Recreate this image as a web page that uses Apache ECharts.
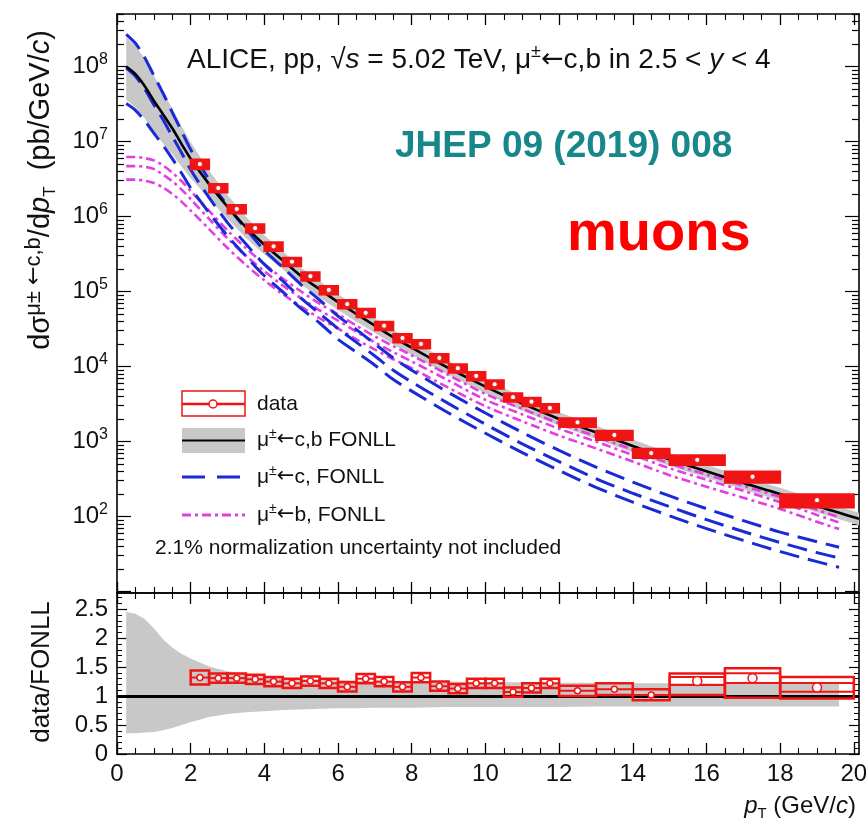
<!DOCTYPE html>
<html><head><meta charset="utf-8">
<script src="https://cdn.jsdelivr.net/npm/echarts@6/dist/echarts.min.js"></script>
<style>html,body{margin:0;padding:0;background:#fff}#c{width:866px;height:827px}</style>
</head><body><div id="c"></div>
<script>
// ---------------- data ----------------
const binLo = [2,2.5,3,3.5,4,4.5,5,5.5,6,6.5,7,7.5,8,8.5,9,9.5,10,10.5,11,11.5,12,13,14,15,16.5,18];
const binHi = [2.5,3,3.5,4,4.5,5,5.5,6,6.5,7,7.5,8,8.5,9,9.5,10,10.5,11,11.5,12,13,14,15,16.5,18,20];
const dataVal = [5.0e6,2.4e6,1.26e6,7.0e5,4.0e5,2.5e5,1.6e5,1.05e5,6.8e4,5.2e4,3.5e4,2.4e4,2.0e4,1.3e4,9.5e3,7.5e3,5.8e3,3.9e3,3.4e3,2.8e3,1.8e3,1.22e3,700,570,340,165];
const dataSysRel = [0.15,0.13,0.13,0.13,0.13,0.13,0.13,0.13,0.13,0.13,0.13,0.13,0.13,0.13,0.13,0.13,0.13,0.13,0.13,0.13,0.13,0.14,0.14,0.15,0.17,0.2];
const ratioVal = [1.32,1.31,1.31,1.29,1.25,1.22,1.26,1.22,1.16,1.30,1.25,1.16,1.32,1.17,1.13,1.22,1.22,1.07,1.14,1.22,1.09,1.12,1.02,1.26,1.31,1.15];
const ratioSysLo = [1.20,1.23,1.23,1.21,1.17,1.14,1.18,1.14,1.08,1.22,1.17,1.08,1.24,1.09,1.05,1.14,1.14,0.99,1.06,1.14,1.00,1.02,0.93,1.02,0.97,0.96];
const ratioSysHi = [1.44,1.39,1.39,1.37,1.33,1.30,1.34,1.30,1.24,1.38,1.33,1.24,1.40,1.25,1.21,1.30,1.30,1.15,1.22,1.30,1.18,1.22,1.12,1.39,1.48,1.33];
const ratioInner = [0,0,0,0,0,0,0,0,0,0,0,0,0,0,0,0,0,0,0,0,0,0,0,0.07,0.085,0.075];

const fonllPt = [0.25,0.5,0.75,1,1.25,1.5,1.75,2,2.5,3,3.5,4,4.5,5,5.5,6,6.5,7,7.5,8,9,10,11,12,13,14,15,16,17,18,19,19.6,20.14];
const fonllCentral = [1.0e8,7.9e7,5.5e7,3.5e7,2.3e7,1.5e7,9.3e6,5.9e6,2.7e6,1.35e6,7.2e5,4.2e5,2.6e5,1.6e5,1.07e5,7.2e4,5.0e4,3.5e4,2.45e4,1.78e4,9.5e3,5.4e3,3.2e3,2.0e3,1.32e3,870,575,400,280,200,138,112,93];
const fonllRatioUp = [2.45,2.42,2.33,2.17,1.98,1.84,1.73,1.65,1.51,1.43,1.38,1.34,1.32,1.30,1.29,1.28,1.27,1.26,1.26,1.25,1.25,1.24,1.24,1.23,1.23,1.22,1.22,1.22,1.21,1.21,1.21,1.21,1.21];
const fonllRatioLo = [0.36,0.36,0.37,0.38,0.41,0.45,0.50,0.55,0.64,0.69,0.72,0.74,0.76,0.77,0.78,0.79,0.79,0.80,0.80,0.80,0.81,0.81,0.81,0.81,0.82,0.82,0.82,0.82,0.82,0.82,0.82,0.82,0.82];
const ratioBandEnd = 19.7;

const compPt = [0.25,0.5,0.75,1,1.25,1.5,1.75,2,2.5,3,3.5,4,4.5,5,5.5,6,6.5,7,7.5,8,9,10,11,12,13,14,15,16,17,18,19,19.6];
const charmUp = [2.69e8,2.04e8,1.32e8,7.6e7,4.4e7,2.45e7,1.38e7,7.8e6,3.1e6,1.38e6,6.8e5,3.55e5,2.1e5,1.23e5,7.7e4,4.7e4,3.1e4,2.0e4,1.3e4,8.9e3,4.5e3,2.4e3,1.32e3,760,457,288,188,127,88,62,46,39];
const charmCentral = [9.5e7,7.4e7,5.0e7,3.1e7,1.95e7,1.17e7,7.1e6,4.2e6,1.78e6,8.3e5,4.3e5,2.3e5,1.38e5,8.1e4,5.1e4,3.2e4,2.1e4,1.38e4,8.9e3,6.2e3,3.2e3,1.7e3,930,540,320,204,135,91,63,45,33,28];
const charmLow = [3.2e7,2.6e7,1.9e7,1.29e7,8.9e6,5.9e6,3.8e6,2.4e6,1.12e6,5.5e5,2.95e5,1.62e5,9.9e4,5.9e4,3.8e4,2.3e4,1.55e4,1.04e4,6.7e3,4.7e3,2.4e3,1.29e3,710,410,245,155,102,69,48,34,25,21];
const beautyUp = [6.2e6,6.2e6,6.0e6,5.6e6,4.8e6,3.85e6,2.97e6,2.19e6,1.19e6,6.5e5,3.78e5,2.32e5,1.49e5,1.0e5,6.9e4,4.97e4,3.5e4,2.52e4,1.87e4,1.41e4,7.7e3,4.3e3,2.72e3,1.75e3,1.17e3,780,510,363,257,182,123,98];
const beautyCentral = [4.7e6,4.7e6,4.6e6,4.3e6,3.6e6,2.95e6,2.3e6,1.7e6,9.3e5,5.1e5,3.0e5,1.86e5,1.2e5,8.1e4,5.6e4,4.1e4,2.9e4,2.1e4,1.55e4,1.17e4,6.5e3,3.6e3,2.3e3,1.48e3,1.0e3,660,440,310,220,155,105,83];
const beautyLow = [3.1e6,3.1e6,3.0e6,2.8e6,2.43e6,2.0e6,1.58e6,1.2e6,6.8e5,3.8e5,2.26e5,1.41e5,9.2e4,6.3e4,4.4e4,3.2e4,2.3e4,1.68e4,1.25e4,9.5e3,5.2e3,2.95e3,1.86e3,1.2e3,810,540,355,250,178,126,85,68];

const xTickLabels = [0,2,4,6,8,10,12,14,16,18,20];
const logMajorExp = [1,2,3,4,5,6,7,8];
const logLabelExp = [2,3,4,5,6,7,8];
const ratioTicks = [0,0.5,1,1.5,2,2.5];

// ---------------- style ----------------
const FONT = "'Liberation Sans', Arial, Helvetica, sans-serif";
const ARROWFONT = "'DejaVu Sans', sans-serif";
const RED = '#f01414', BLUE = '#1a2ad6', MAG = '#e23ee2', GREY = '#c8c8c8';
const X_MAX = 20.14, LOG_MIN = 0.98, LOG_MAX = 8.70, R_MAX = 2.78;
const L = Math.log10;

const logMinor = [];
for (let n = 0; n <= 8; n++) for (let k = 2; k <= 9; k++) { const v = n + L(k); if (v > LOG_MIN && v < LOG_MAX) logMinor.push(v); }

function xAxisCfg(grid, pos, labels) {
  return {
    type: 'value', gridIndex: grid, position: pos, min: 0, max: X_MAX, interval: 2,
    axisLine: { show: true, onZero: false, lineStyle: { color: '#000', width: 1.6 } },
    axisTick: { show: true, inside: true, length: 11, customValues: xTickLabels, lineStyle: { color: '#000', width: 1.3 } },
    minorTick: { show: true, splitNumber: 4, length: 6, lineStyle: { color: '#000', width: 1.1 } },
    axisLabel: labels ? { show: true, customValues: xTickLabels, margin: 8, fontSize: 24, color: '#111', fontFamily: FONT } : { show: false },
    splitLine: { show: false }, minorSplitLine: { show: false }
  };
}
function logYCfg(pos, minor, labels) {
  return {
    type: 'value', gridIndex: 0, position: pos, min: LOG_MIN, max: LOG_MAX,
    axisLine: { show: !minor, onZero: false, lineStyle: { color: '#000', width: 1.6 } },
    axisTick: { show: true, inside: true, length: minor ? 7 : 14, customValues: minor ? logMinor : logMajorExp, lineStyle: { color: '#000', width: 1.2 } },
    axisLabel: labels ? {
      show: true, customValues: logLabelExp, margin: 9, fontSize: 24, color: '#111', fontFamily: FONT, lineHeight: 30,
      formatter: v => '10{s|' + Math.round(v) + '}',
      rich: { s: { fontSize: 16, lineHeight: 18, verticalAlign: 'top', fontFamily: FONT, color: '#111' } }
    } : { show: false },
    splitLine: { show: false }
  };
}
function ratioYCfg(pos, labels) {
  return {
    type: 'value', gridIndex: 1, position: pos, min: 0, max: R_MAX, interval: 0.5,
    axisLine: { show: true, onZero: false, lineStyle: { color: '#000', width: 1.6 } },
    axisTick: { show: true, inside: true, length: 10, customValues: ratioTicks, lineStyle: { color: '#000', width: 1.2 } },
    minorTick: { show: true, splitNumber: 5, length: 5, lineStyle: { color: '#000', width: 1 } },
    axisLabel: labels ? { show: true, customValues: ratioTicks, margin: 9, fontSize: 24, color: '#111', fontFamily: FONT } : { show: false },
    splitLine: { show: false }, minorSplitLine: { show: false }
  };
}

function curve(name, xs, ys, color, dash, width) {
  return { name, type: 'line', xAxisIndex: 0, yAxisIndex: 0, data: xs.map((x, i) => [x, L(ys[i])]),
    showSymbol: false, symbol: 'none', smooth: 0.3, silent: true, lineStyle: { color, width, type: dash }, z: 3 };
}

// band outlines (built from the arrays above)
const topBandX = fonllPt;
const topBandHi = fonllPt.map((x, i) => L(fonllCentral[i] * fonllRatioUp[i]));
const topBandLo = fonllPt.map((x, i) => L(fonllCentral[i] * fonllRatioLo[i]));
const rIdx = fonllPt.map((x, i) => i).filter(i => fonllPt[i] <= ratioBandEnd);
const ratioBandX = rIdx.map(i => fonllPt[i]);
const ratioBandHi = rIdx.map(i => fonllRatioUp[i]);
const ratioBandLo = rIdx.map(i => fonllRatioLo[i]);

function bandRenderer(xs, lo, hi) {
  return function (params, api) {
    const pts = [];
    for (let i = 0; i < xs.length; i++) pts.push(api.coord([xs[i], hi[i]]));
    for (let i = xs.length - 1; i >= 0; i--) pts.push(api.coord([xs[i], lo[i]]));
    return { type: 'polygon', shape: { points: pts }, style: { fill: GREY, stroke: 'none' } };
  };
}

const topData = dataVal.map((v, i) => [binLo[i], binHi[i], L(v), L(v * (1 - dataSysRel[i])), L(v * (1 + dataSysRel[i]))]);
const ratioData = ratioVal.map((v, i) => [binLo[i], binHi[i], v, ratioSysLo[i], ratioSysHi[i], ratioInner[i]]);

function renderTop(params, api) {
  const x0 = api.value(0), x1 = api.value(1), yc = api.value(2), ylo = api.value(3), yhi = api.value(4);
  const a = api.coord([x0, yhi]), b = api.coord([x1, ylo]), c = api.coord([(x0 + x1) / 2, yc]);
  return { type: 'group', children: [
    { type: 'rect', shape: { x: a[0], y: a[1], width: b[0] - a[0], height: b[1] - a[1] }, style: { fill: RED, stroke: RED, lineWidth: 2 } },
    { type: 'circle', shape: { cx: c[0], cy: c[1], r: 2.6 }, style: { fill: '#fff', stroke: RED, lineWidth: 1 } }
  ] };
}
function renderRatio(params, api) {
  const x0 = api.value(0), x1 = api.value(1), yc = api.value(2), ylo = api.value(3), yhi = api.value(4), st = api.value(5);
  const a = api.coord([x0, yhi]), b = api.coord([x1, ylo]), c = api.coord([(x0 + x1) / 2, yc]);
  const ch = [{ type: 'rect', shape: { x: a[0], y: a[1], width: b[0] - a[0], height: b[1] - a[1] }, style: { fill: 'none', stroke: RED, lineWidth: 2.5 } }];
  if (st > 0) {
    const ia = api.coord([x0, yc + st]), ib = api.coord([x1, yc - st]);
    ch.push({ type: 'rect', shape: { x: ia[0], y: ia[1], width: ib[0] - ia[0], height: ib[1] - ia[1] }, style: { fill: 'none', stroke: RED, lineWidth: 2 } });
  } else {
    const l = api.coord([x0, yc]), r = api.coord([x1, yc]);
    ch.push({ type: 'line', shape: { x1: l[0], y1: l[1], x2: r[0], y2: r[1] }, style: { stroke: RED, lineWidth: 2 } });
  }
  ch.push({ type: 'circle', shape: { cx: c[0], cy: c[1], r: st > 0 ? 4.5 : 3 }, style: { fill: '#fff', stroke: RED, lineWidth: 1.5 } });
  return { type: 'group', children: ch };
}

const DASH_C = [20, 9], DASH_B = [9, 4, 3, 4];
const legRich = {
  s: { fontSize: 14, fontFamily: FONT, verticalAlign: 'top', lineHeight: 16 },
  a: { fontSize: 21, fontFamily: ARROWFONT, lineHeight: 26 }
};
function legText(y, txt) {
  return { type: 'text', z: 10, x: 257, y, style: { text: txt, fontSize: 21, fontFamily: FONT, fill: '#111', align: 'left', textAlign: 'left', verticalAlign: 'middle', textVerticalAlign: 'middle', lineHeight: 26, rich: legRich } };
}

const option = {
  animation: false,
  backgroundColor: '#fff',
  grid: [
    { left: 117, top: 14, width: 742, height: 579, outerBoundsMode: 'none', containLabel: false },
    { left: 117, top: 593, width: 742, height: 161, outerBoundsMode: 'none', containLabel: false }
  ],
  xAxis: [xAxisCfg(0, 'bottom', false), xAxisCfg(0, 'top', false), xAxisCfg(1, 'bottom', true), xAxisCfg(1, 'top', false)],
  yAxis: [logYCfg('left', false, true), logYCfg('left', true, false), logYCfg('right', false, false), logYCfg('right', true, false),
          ratioYCfg('left', true), ratioYCfg('right', false)],
  series: [
    { type: 'custom', xAxisIndex: 0, yAxisIndex: 0, data: [[topBandX[0], topBandLo[0]]], renderItem: bandRenderer(topBandX, topBandLo, topBandHi), silent: true, z: 1 },
    curve('b up', compPt, beautyUp, MAG, DASH_B, 2.6),
    curve('b central', compPt, beautyCentral, MAG, DASH_B, 2.6),
    curve('b low', compPt, beautyLow, MAG, DASH_B, 2.6),
    curve('c up', compPt, charmUp, BLUE, DASH_C, 3),
    curve('c central', compPt, charmCentral, BLUE, DASH_C, 3),
    curve('c low', compPt, charmLow, BLUE, DASH_C, 3),
    curve('total', fonllPt, fonllCentral, '#000', 'solid', 2.6),
    { type: 'custom', xAxisIndex: 0, yAxisIndex: 0, data: topData, renderItem: renderTop, silent: true, z: 5 },

    { type: 'custom', xAxisIndex: 2, yAxisIndex: 4, data: [[ratioBandX[0], ratioBandLo[0]]], renderItem: bandRenderer(ratioBandX, ratioBandLo, ratioBandHi), silent: true, z: 1,
      markLine: { silent: true, symbol: ['none', 'none'], label: { show: false }, lineStyle: { color: '#000', width: 3, type: 'solid' }, data: [{ yAxis: 1 }] } },
    { type: 'custom', xAxisIndex: 2, yAxisIndex: 4, data: ratioData, renderItem: renderRatio, silent: true, z: 5 }
  ],
  graphic: { elements: [
    { type: 'text', x: 187, y: 60, z: 10, style: { text: 'ALICE, pp, √{i|s} = 5.02 TeV, μ{s|±}{a|←}c,b in 2.5 < {i|y} < 4', fontSize: 28, fontFamily: FONT, fill: '#111', align: 'left', textAlign: 'left', verticalAlign: 'middle', textVerticalAlign: 'middle', lineHeight: 34,
      rich: { i: { fontStyle: 'italic', fontSize: 28, fontFamily: FONT, lineHeight: 34 }, s: { fontSize: 18, fontFamily: FONT, verticalAlign: 'top', lineHeight: 20 }, a: { fontSize: 27, fontFamily: ARROWFONT, lineHeight: 34 } } } },
    { type: 'text', x: 395, y: 147, z: 10, style: { text: 'JHEP 09 (2019) 008', fontSize: 37, fontWeight: 'bold', fontFamily: FONT, fill: '#17878a', align: 'left', textAlign: 'left', verticalAlign: 'middle', textVerticalAlign: 'middle' } },
    { type: 'text', x: 567, y: 235, z: 10, style: { text: 'muons', fontSize: 56, fontWeight: 'bold', fontFamily: FONT, fill: '#ff0000', align: 'left', textAlign: 'left', verticalAlign: 'middle', textVerticalAlign: 'middle' } },
    // legend
    { type: 'rect', z: 10, shape: { x: 182, y: 391, width: 63, height: 25 }, style: { fill: 'none', stroke: RED, lineWidth: 1.5 } },
    { type: 'line', z: 10, shape: { x1: 182, y1: 404, x2: 245, y2: 404 }, style: { stroke: RED, lineWidth: 2.5 } },
    { type: 'circle', z: 10, shape: { cx: 213, cy: 404, r: 4 }, style: { fill: '#fff', stroke: RED, lineWidth: 1.5 } },
    { type: 'rect', z: 10, shape: { x: 182, y: 428, width: 63, height: 25 }, style: { fill: GREY } },
    { type: 'line', z: 10, shape: { x1: 182, y1: 440.5, x2: 245, y2: 440.5 }, style: { stroke: '#000', lineWidth: 2 } },
    { type: 'line', z: 10, shape: { x1: 182, y1: 477, x2: 245, y2: 477 }, style: { stroke: BLUE, lineWidth: 3, lineDash: [23, 12] } },
    { type: 'line', z: 10, shape: { x1: 182, y1: 515, x2: 245, y2: 515 }, style: { stroke: MAG, lineWidth: 3, lineDash: DASH_B } },
    legText(404, 'data'),
    legText(440, 'μ{s|±}{a|←}c,b FONLL'),
    legText(477, 'μ{s|±}{a|←}c, FONLL'),
    legText(515, 'μ{s|±}{a|←}b, FONLL'),
    { type: 'text', z: 10, x: 155, y: 548, style: { text: '2.1% normalization uncertainty not included', fontSize: 21, fontFamily: FONT, fill: '#111', align: 'left', textAlign: 'left', verticalAlign: 'middle', textVerticalAlign: 'middle' } },
    // axis titles
    { type: 'text', z: 10, x: 41, y: 190, rotation: Math.PI / 2, style: { text: 'dσ{s|μ± }{a|←}{s|c,b}/d{i|p}{b|T}  (pb/GeV/{i|c})', fontSize: 29, fontFamily: FONT, fill: '#111', align: 'center', textAlign: 'center', verticalAlign: 'middle', textVerticalAlign: 'middle', lineHeight: 36,
      rich: { s: { fontSize: 22, fontFamily: FONT, verticalAlign: 'top', lineHeight: 23 }, a: { fontSize: 22, fontFamily: ARROWFONT, verticalAlign: 'top', lineHeight: 23 }, i: { fontStyle: 'italic', fontSize: 29, fontFamily: FONT, lineHeight: 36 }, b: { fontSize: 17, fontFamily: FONT, verticalAlign: 'bottom', lineHeight: 19 } } } },
    { type: 'text', z: 10, x: 42, y: 672, rotation: Math.PI / 2, style: { text: 'data/FONLL', fontSize: 26, fontFamily: FONT, fill: '#111', align: 'center', textAlign: 'center', verticalAlign: 'middle', textVerticalAlign: 'middle' } },
    { type: 'text', z: 10, x: 856, y: 806, style: { text: '{i|p}{b|T} (GeV/{i|c})', fontSize: 24, fontFamily: FONT, fill: '#111', align: 'right', textAlign: 'right', verticalAlign: 'middle', textVerticalAlign: 'middle', lineHeight: 30,
      rich: { i: { fontStyle: 'italic', fontSize: 24, fontFamily: FONT, lineHeight: 30 }, b: { fontSize: 15, fontFamily: FONT, verticalAlign: 'bottom', lineHeight: 16 } } } }
  ] }
};

const chart = echarts.init(document.getElementById('c'), null, { renderer: 'canvas' });
chart.setOption(option);
</script>
</body></html>
